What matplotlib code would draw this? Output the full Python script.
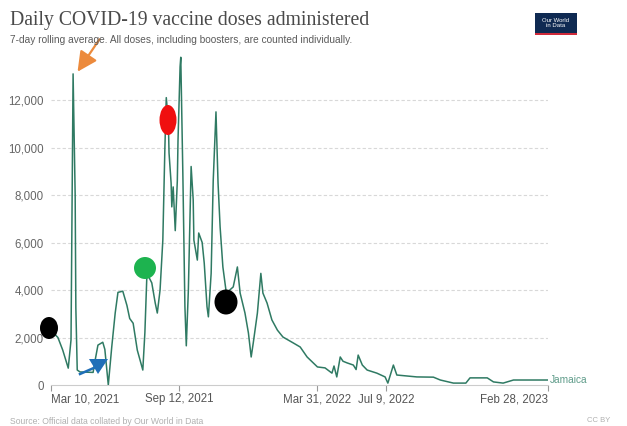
import matplotlib
matplotlib.use("Agg")
import matplotlib.pyplot as plt
from matplotlib.patches import Ellipse, Polygon, Rectangle
import pandas as pd

# daily doses, 7-day rolling average
dates = [
    "2021-03-10", "2021-03-20", "2021-03-27", "2021-04-04", "2021-04-08", "2021-04-11",
    "2021-04-14", "2021-04-15", "2021-04-17", "2021-04-21", "2021-05-10", "2021-05-13",
    "2021-05-17", "2021-05-24", "2021-05-27", "2021-06-01", "2021-06-06", "2021-06-11",
    "2021-06-15", "2021-06-22", "2021-06-28", "2021-07-02", "2021-07-07", "2021-07-13",
    "2021-07-17", "2021-07-21", "2021-07-24", "2021-07-27", "2021-08-03", "2021-08-08",
    "2021-08-11", "2021-08-15", "2021-08-19", "2021-08-22", "2021-08-24", "2021-08-27",
    "2021-08-28", "2021-08-31", "2021-09-01", "2021-09-03", "2021-09-06", "2021-09-09",
    "2021-09-10", "2021-09-13", "2021-09-14", "2021-09-17", "2021-09-20", "2021-09-22",
    "2021-09-25", "2021-09-29", "2021-10-02", "2021-10-03", "2021-10-08", "2021-10-10",
    "2021-10-15", "2021-10-18", "2021-10-22", "2021-10-24", "2021-10-28", "2021-10-31",
    "2021-11-04", "2021-11-07", "2021-11-10", "2021-11-14", "2021-11-19", "2021-11-29",
    "2021-12-05", "2021-12-09", "2021-12-16", "2021-12-21", "2021-12-25", "2021-12-28",
    "2022-01-03", "2022-01-08", "2022-01-11", "2022-01-17", "2022-01-24", "2022-02-01",
    "2022-02-09", "2022-02-24", "2022-03-06", "2022-03-16", "2022-03-31", "2022-04-11",
    "2022-04-21", "2022-04-24", "2022-04-28", "2022-05-03", "2022-05-07", "2022-05-13",
    "2022-05-22", "2022-05-26", "2022-05-29", "2022-06-04", "2022-06-11", "2022-06-25",
    "2022-07-07", "2022-07-11", "2022-07-19", "2022-07-24", "2022-08-22", "2022-09-15",
    "2022-09-25", "2022-10-14", "2022-11-01", "2022-11-07", "2022-12-02", "2022-12-11",
    "2022-12-25", "2023-01-09", "2023-01-29", "2023-02-28",
]
doses = [
    2300, 2000, 1470, 710, 1900, 13100,
    8000, 3250, 630, 550, 530, 1050,
    1680, 1800, 1500, 0, 1600, 3030,
    3900, 3950, 3350, 2800, 2600, 1470,
    1050, 630, 2200, 4700, 4300, 3450,
    3030, 4000, 6100, 10000, 12100, 11100,
    9770, 8500, 7500, 8340, 6500, 8600,
    10300, 13400, 13800, 8900, 3300, 1650,
    4000, 9200, 7800, 6100, 5260, 6400,
    6000, 5130, 3300, 2870, 4700, 8600,
    11500, 8500, 6650, 4970, 3870, 4130,
    4970, 3870, 3030, 2190, 1180, 1770,
    3030, 4700, 3870, 3450, 2740, 2310,
    2020, 1770, 1600, 1180, 760, 720,
    500, 800, 340, 1180, 1000, 930,
    840, 650, 1260, 840, 630, 500,
    340, 80, 840, 420, 340, 330,
    210, 80, 80, 300, 300, 130,
    80, 210, 210, 210,
]
y_ticks = [0, 2000, 4000, 6000, 8000, 10000, 12000]
x_ticks = ["2021-03-10", "2021-09-12", "2022-03-31", "2022-07-09", "2023-02-28"]
x_labels = ["Mar 10, 2021", "Sep 12, 2021", "Mar 31, 2022", "Jul 9, 2022", "Feb 28, 2023"]

W, H = 627, 426
fig = plt.figure(figsize=(W / 100, H / 100), dpi=100)
ax = fig.add_axes([51 / W, 1 - 385 / H, (548 - 51) / W, (385 - 52.5) / H])

x = pd.to_datetime(dates)
ax.plot(x, doses, color="#2f7a63", lw=1.1, zorder=3)

ax.set_xlim(pd.Timestamp("2021-03-10"), pd.Timestamp("2023-02-28"))
ax.set_ylim(0, 14000)
ax.set_yticks(y_ticks)
ax.set_yticklabels(["{:,}".format(v) for v in y_ticks])
ax.set_xticks(pd.to_datetime(x_ticks))
ax.set_xticklabels(x_labels)
labels = ax.get_xticklabels()
labels[0].set_ha("left")
labels[-1].set_ha("right")

for v in y_ticks[1:]:
    ax.axhline(v, color="#d8d8d8", lw=0.8, ls=(0, (3, 2)), zorder=1)
for s in ["top", "right", "left"]:
    ax.spines[s].set_visible(False)
ax.spines["bottom"].set_color("#cccccc")
ax.tick_params(axis="y", length=0, pad=5, labelsize=8.3, labelcolor="#666666")
ax.tick_params(axis="x", length=4, color="#999999", pad=2, labelsize=8.3, labelcolor="#555555")
for t in ax.get_xticklabels() + ax.get_yticklabels():
    t.set_family("Liberation Sans")

ax.text(1.004, doses[-1], "Jamaica", transform=ax.get_yaxis_transform(),
        color="#5f9c8a", fontsize=7.3, va="center", ha="left", family="Liberation Sans")

# titles
fig.text(10 / W, 1 - 20 / H, "Daily COVID-19 vaccine doses administered",
         family="Liberation Serif", fontsize=14.2, color="#4a4a4a", va="center")
fig.text(10 / W, 1 - 40 / H,
         "7-day rolling average. All doses, including boosters, are counted individually.",
         family="Liberation Sans", fontsize=7.3, color="#5b5b5b", va="center")
fig.text(10 / W, 1 - 421 / H, "Source: Official data collated by Our World in Data",
         family="Liberation Sans", fontsize=6.2, color="#b0b0b0", va="center")
fig.text(610 / W, 1 - 421 / H, "CC BY", family="Liberation Sans", fontsize=5.5,
         color="#b0b0b0", va="center", ha="right")

# logo
fig.add_artist(Rectangle((535 / W, 1 - 33 / H), 42 / W, 20 / H, transform=fig.transFigure,
                         facecolor="#0f2a52", edgecolor="none"))
fig.add_artist(Rectangle((535 / W, 1 - 35 / H), 42 / W, 2 / H, transform=fig.transFigure,
                         facecolor="#cf2a3a", edgecolor="none"))
fig.text(556 / W, 1 - 23 / H, "Our World\nin Data", color="white", fontsize=4.3,
         ha="center", va="center", family="Liberation Sans", linespacing=1.0)


# annotation marks drawn over the chart (pixel positions)
def px(xp, yp):
    return (xp / W, 1 - yp / H)


def blob(xp, yp, w, h, color):
    fig.add_artist(Ellipse(px(xp, yp), w / W, h / H, transform=fig.transFigure,
                           facecolor=color, edgecolor="none", zorder=10))


blob(49, 328, 18, 22, "black")
blob(145, 268, 22, 22, "#1db34f")
blob(168, 120, 17, 30, "#f01010")
blob(226, 302, 23, 25, "black")

ax.annotate("", xy=px(76, 74), xytext=px(101, 37), xycoords="figure fraction",
            textcoords="figure fraction",
            arrowprops=dict(arrowstyle="-|>", color="#ec8a3c", lw=1.6, mutation_scale=30),
            annotation_clip=False, zorder=10)

blue = "#1f6fb8"
fig.add_artist(plt.Line2D([80 / W, 96 / W], [1 - 374 / H, 1 - 367 / H], color=blue, lw=1.8,
                          transform=fig.transFigure, zorder=10))
fig.add_artist(Polygon([px(89, 359), px(108, 359), px(98, 374)], closed=True,
                       transform=fig.transFigure, facecolor=blue, edgecolor="none", zorder=10))

fig.savefig("out.png", dpi=100)
